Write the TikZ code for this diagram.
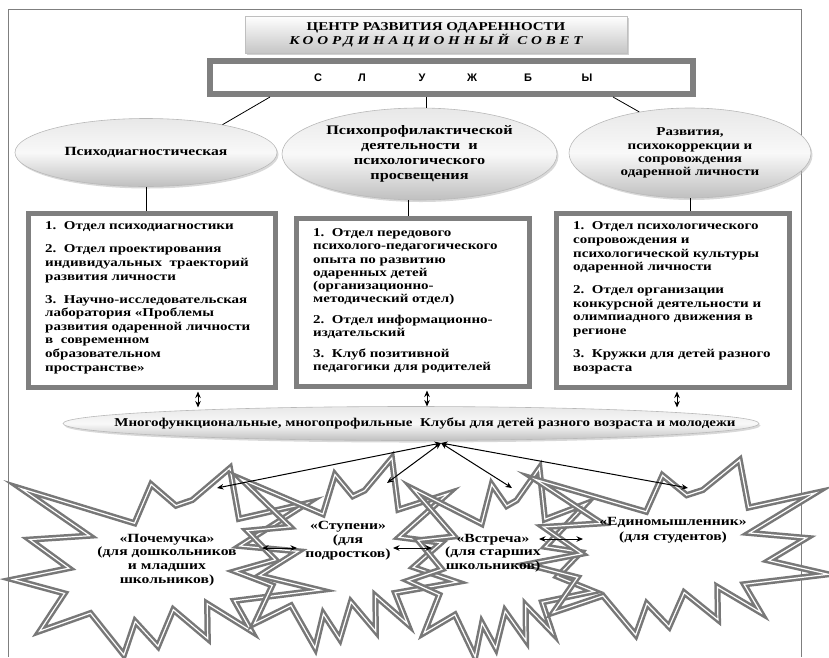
\documentclass[tikz,border=0pt]{standalone}
\usepackage{fontspec}
\setmainfont{Liberation Serif}[FakeStretch=1.25]
\newfontfamily\sansfam{Liberation Sans}
\usetikzlibrary{shapes.geometric,shadows,arrows.meta}
\definecolor{frm}{HTML}{7F7F7F}
\definecolor{burst}{HTML}{787878}
\tikzset{
  frameline/.style={draw=frm, line width=1pt},
  bandbox/.style={draw=frm, line width=5pt, fill=white, inner sep=0pt, rectangle},
  innerline/.style={draw=frm, line width=0.9pt},
  oval/.style={ellipse, draw=gray!55, line width=0.6pt, inner sep=0pt,
    top color=gray!18, bottom color=gray!50, middle color=gray!5,
    drop shadow={shadow xshift=1.5pt, shadow yshift=-2pt, fill=gray!60, opacity=.5}},
  titlebox/.style={rectangle, draw=gray!50, line width=0.6pt, inner sep=0pt,
    top color=white, bottom color=gray!45,
    drop shadow={shadow xshift=2pt, shadow yshift=-2pt, fill=gray!60, opacity=.6}},
  boxtext/.style={align=left, inner sep=0pt, anchor=north west},
  startext/.style={align=center, inner sep=0pt, font=\bfseries\fontsize{12.5}{13.6}\selectfont},
  letter/.style={inner sep=0pt, font=\sansfam\bfseries\fontsize{11}{13}\selectfont},
  conn/.style={draw=black, line width=0.8pt},
  dbl/.style={line width=1pt, {Stealth[length=6.5pt,width=5.5pt]}-{Stealth[length=6.5pt,width=5.5pt]}},
  burstline/.style={draw=burst, line width=2.5pt, double=white, double distance=1.2pt, line join=miter, miter limit=8}
}
\newcommand\burst[4]{%
  \draw[burstline, shift={(#1,#2)}, x=#3pt/216, y=-#4pt/216]
   (114.62,43.42) -- (97.22,18.87) -- (85.50,63.82) -- (6,24) -- (53.72,78.17)
   -- (11.72,82.70) -- (39.35,115.72) -- (0,128.77) -- (36.27,144.84) -- (18.76,188.42)
   -- (54.52,167.65) -- (78,216) -- (86,177.24) -- (102,205.93) -- (112.81,163.58)
   -- (137.00,197.12) -- (136.63,156.67) -- (167.78,188.42) -- (155.78,153.42) -- (216,141.02)
   -- (173.50,124.17) -- (200.62,96.25) -- (159.62,90.05) -- (207.00,40.62) -- (159.00,58.62)
   -- (152.62,0) -- (126.12,37.00) -- cycle;}
\begin{document}
\begin{tikzpicture}[x=1pt,y=-1pt]
\useasboundingbox (0,0) rectangle (829,657);
% outer frame
\draw[frameline] (8,657) -- (8,9) -- (801,9) -- (801,657);

% title
\node[titlebox, minimum width=382pt, minimum height=37pt, align=center,
      font=\bfseries\fontsize{12}{14}\selectfont] (title) at (436,34.5)
  {ЦЕНТР РАЗВИТИЯ ОДАРЕННОСТИ\\
   {\itshape\addfontfeature{LetterSpace=32}КООРДИНАЦИОННЫЙ\hspace{8pt}СОВЕТ}};

% services box
\node[bandbox, line width=6pt, minimum width=483pt, minimum height=33pt] (sl) at (451.5,77.5) {};
\draw[innerline] ([shift={(5pt,-5pt)}]sl.north west) rectangle ([shift={(-5pt,5pt)}]sl.south east);
\node[letter] (s1) at (318,78) {С};
\node[letter] (s2) at (362,78) {Л};
\node[letter] (s3) at (422,78) {У};
\node[letter] (s4) at (472,78) {Ж};
\node[letter] (s5) at (528,78) {Б};
\node[letter] (s6) at (587,78) {Ы};

% ellipses
\node[oval, minimum width=262pt, minimum height=68pt,
      font=\bfseries\fontsize{12.5}{14}\selectfont] (e1) at (146,152.5) {Психодиагностическая};
\node[oval, minimum width=275pt, minimum height=92pt, align=center,
      font=\bfseries\fontsize{13}{15}\selectfont] (e2) at (419.5,154)
  {Психопрофилактической\\деятельности\ \ и\\психологического\\просвещения};
\node[oval, minimum width=242pt, minimum height=90pt, align=center,
      font=\bfseries\fontsize{12}{13.2}\selectfont] (e3) at (690,153)
  {Развития,\\психокоррекции и\\сопровождения\\одаренной личности};

% connectors services -> ellipses
\draw[conn] ([xshift=-181.5pt]sl.south) -- (e1.20);
\draw[conn] ([xshift=-25.5pt]sl.south) -- ([xshift=-25.5pt]sl.south |- e2.north);
\draw[conn] ([xshift=161.5pt]sl.south) -- (e3.141);

% boxes
\node[bandbox, minimum width=247pt, minimum height=174pt] (b1) at (151.5,300) {};
\node[bandbox, minimum width=233pt, minimum height=168pt] (b2) at (412.5,302) {};
\node[bandbox, minimum width=233pt, minimum height=174pt] (b3) at (672.5,300) {};
\foreach \b in {b1,b2,b3}
  \draw[innerline] ([shift={(4.5pt,-4.5pt)}]\b.north west) rectangle ([shift={(-4.5pt,4.5pt)}]\b.south east);

% connectors ellipses -> boxes
\draw[conn] (e1.south) -- (e1.south |- b1.north);
\draw[conn] ([xshift=-11.5pt]e2.south) -- ([xshift=-11.5pt]e2.south |- b2.north);
\draw[conn] (e3.south) -- (e3.south |- b3.north);

% box texts
\node[boxtext, font=\bfseries\fontsize{12}{13.6}\selectfont] (t1) at (45,221.7)
  {1.\ \ Отдел психодиагностики\\[9.4pt]
   2.\ \ Отдел проектирования\\
   индивидуальных\ \ траекторий\\
   развития личности\\[9.4pt]
   3.\ \ Научно-исследовательская\\
   лаборатория «Проблемы\\
   развития одаренной личности\\
   в\ \ современном\\
   образовательном\\
   пространстве»};
\node[boxtext, font=\bfseries\fontsize{12}{13.1}\selectfont] (t2) at (313,228.7)
  {1.\ \ Отдел передового\\
   психолого-педагогического\\
   опыта по развитию\\
   одаренных детей\\
   (организационно-\\
   методический отдел)\\[8pt]
   2.\ \ Отдел информационно-\\
   издательский\\[8pt]
   3.\ \ Клуб позитивной\\
   педагогики для родителей};
\node[boxtext, font=\bfseries\fontsize{12}{13.6}\selectfont] (t3) at (573,221.7)
  {1.\ \ Отдел психологического\\
   сопровождения и\\
   психологической культуры\\
   одаренной личности\\[9.4pt]
   2.\ \ Отдел организации\\
   конкурсной деятельности и\\
   олимпиадного движения в\\
   регионе\\[9.4pt]
   3.\ \ Кружки для детей разного\\
   возраста};

% clubs ellipse
\node[oval, minimum width=696pt, minimum height=34pt] (cl) at (411,423.5) {};
\node[inner sep=0pt, font=\bfseries\fontsize{12}{14}\selectfont] (clt) at (425,423)
  {Многофункциональные, многопрофильные\ \ Клубы для детей разного возраста и молодежи};

\draw[dbl, shorten <=2pt] ([xshift=46.5pt]b1.south) -- ([xshift=46.5pt,yshift=-18pt]b1.south);
\draw[dbl, shorten <=2pt] ([xshift=14.5pt]b2.south) -- ([xshift=14.5pt,yshift=-18pt]b2.south);
\draw[dbl, shorten <=2pt] ([xshift=4.5pt]b3.south) -- ([xshift=4.5pt,yshift=-18pt]b3.south);

% bursts
\burst{13}{468}{307}{187}
\burst{235}{458}{222}{190}
\burst{408}{468}{186}{189}
\burst{527}{460}{301}{175}

% arrows from clubs to bursts
\coordinate (hub) at (441,443);
\coordinate (a1) at (217,488);
\coordinate (a2) at (387,483);
\coordinate (a3) at (512,488);
\coordinate (a4) at (688,488);
\foreach \a in {a1,a2,a3,a4}
  \draw[dbl] (hub) -- (\a);

% burst texts
\node[startext] (p1) at (167,560) {«Почемучка»\\(для дошкольников\\и младших\\школьников)};
\node[startext, font=\bfseries\fontsize{12.5}{14}\selectfont] (p2) at (348,541) {«Ступени»\\(для\\подростков)};
\node[startext] (p3) at (493,553) {«Встреча»\\(для старших\\школьников)};
\node[startext, font=\bfseries\fontsize{12.5}{15}\selectfont] (p4) at (673,530) {«Единомышленник»\\(для студентов)};

% arrows between bursts
\coordinate (q1) at (262,548);
\coordinate (q2) at (297,548);
\coordinate (q3) at (393,548);
\coordinate (q4) at (432,548);
\coordinate (q5) at (539,539);
\coordinate (q6) at (583,539);
\draw[dbl] (q1) -- (q2);
\draw[dbl] (q3) -- (q4);
\draw[dbl] (q5) -- (q6);
\end{tikzpicture}
\end{document}
